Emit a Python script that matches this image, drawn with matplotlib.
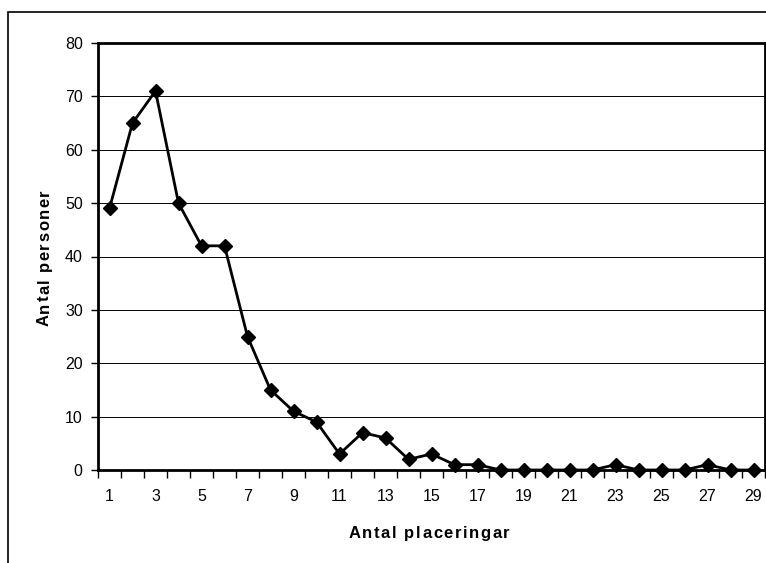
import matplotlib
matplotlib.use("Agg")
import matplotlib.pyplot as plt
from matplotlib.font_manager import FontProperties, findfont
from matplotlib.ft2font import FT2Font
from matplotlib.patches import Rectangle
from matplotlib.ticker import FixedLocator, NullFormatter

plt.rcParams["font.family"] = ["Liberation Sans", "DejaVu Sans"]

# Antal placeringar (1..29) och antal personer
placeringar = list(range(1, 30))
personer = [49, 65, 71, 50, 42, 42, 25, 15, 11, 9, 3, 7, 6, 2, 3, 1, 1,
            0, 0, 0, 0, 0, 1, 0, 0, 0, 1, 0, 0]
y_ticks = [0, 10, 20, 30, 40, 50, 60, 70, 80]
x_labels = [str(n) for n in placeringar[::2]]

W, H, DPI = 766, 563, 100


def spaced_text(fig, s, cx, cy, size, spacing, vertical=False):
    # draw text char by char with extra letter spacing (Excel-like look)
    fp = FontProperties(family="Liberation Sans", weight="bold", size=size)
    font = FT2Font(findfont(fp))
    font.set_size(size, DPI)
    adv = [font.load_char(ord(c)).linearHoriAdvance / 65536 for c in s]
    total = sum(adv) + spacing * (len(s) - 1)
    pos = (cy if vertical else cx) - total / 2
    for c, a in zip(s, adv):
        if vertical:
            fig.text(cx / W, pos / H, c, rotation=90, rotation_mode="anchor",
                     ha="left", va="baseline", fontproperties=fp)
        else:
            fig.text(pos / W, cy / H, c, ha="left", va="baseline",
                     fontproperties=fp)
        pos += a + spacing


def main():
    fig = plt.figure(figsize=(W / DPI, H / DPI), dpi=DPI)

    # chart area border (cropped at right/bottom like the reference)
    fig.patches.append(Rectangle((8 / W, -0.1), 1.2, (H - 12) / H + 0.1,
                                 transform=fig.transFigure, fill=False,
                                 edgecolor="black", linewidth=1.2))

    ax = fig.add_axes([98 / W, 93 / H, 667 / W, 427 / H])

    ax.plot(placeringar, personer, color="black", linewidth=2,
            marker="D", markersize=7.5, zorder=3, clip_on=False)

    ax.set_xlim(0.5, 29.5)
    ax.set_ylim(0, 80)

    ax.set_yticks(y_ticks)
    ax.yaxis.grid(True, color="black", linewidth=0.7)
    ax.set_axisbelow(True)

    # category boundaries as major ticks, labels on every other category
    ax.xaxis.set_major_locator(FixedLocator([i + 0.5 for i in range(0, 30)]))
    ax.xaxis.set_major_formatter(NullFormatter())
    ax.xaxis.set_minor_locator(FixedLocator(placeringar[::2]))
    ax.set_xticklabels(x_labels, minor=True)

    ax.tick_params(axis="x", which="major", direction="out", length=6,
                   width=1, color="black")
    ax.tick_params(axis="x", which="minor", length=0, pad=14, labelsize=11.5)
    ax.tick_params(axis="y", direction="out", length=5, width=1,
                   labelsize=11.5, pad=6)

    for side in ["left", "right", "top", "bottom"]:
        ax.spines[side].set_linewidth(2)
        ax.spines[side].set_color("black")

    spaced_text(fig, "Antal placeringar", 429, H - 538, 12, 1.6)
    spaced_text(fig, "Antal personer", 49, H - 258, 12, 1.5, vertical=True)

    fig.savefig("out.png", dpi=DPI)
    plt.close(fig)


if __name__ == "__main__":
    main()
